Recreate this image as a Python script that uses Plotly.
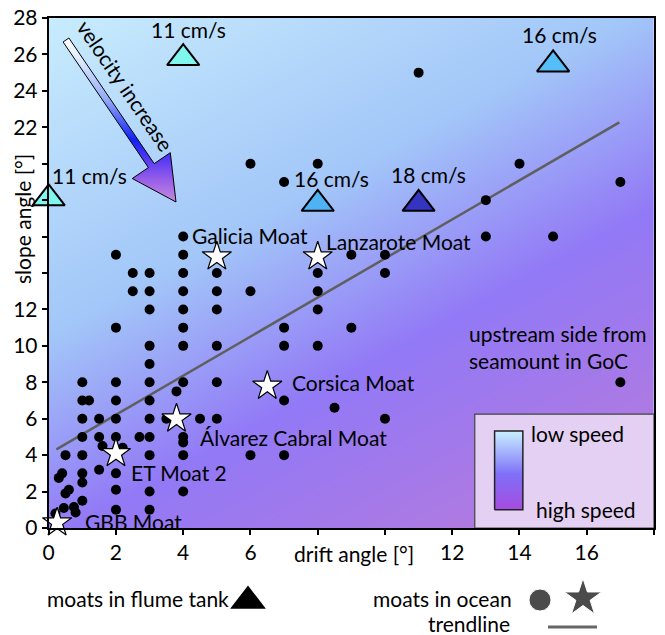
import numpy as np
import plotly.graph_objects as go

# ---------------- data ----------------
dot_x = [0.2, 0.45, 0.75, 0.8, 0.3, 0.4, 0.5, 0.6, 0.5,
         1, 1, 1, 1, 1, 1, 1, 1,
         1.2,
         1.5, 1.6, 1.5, 1.5,
         2, 2, 2, 2, 2, 2, 2, 2, 2,
         2.2,
         2.5, 2.5,
         2.7,
         3, 3, 3, 3, 3, 3, 3, 3, 3, 3, 3, 3,
         3.5, 3.8,
         4, 4, 4, 4, 4, 4, 4, 4, 4, 4, 4, 4,
         4.5,
         5, 5, 5, 5, 5, 5,
         6, 6, 6,
         7, 7, 7, 7, 7,
         8, 8, 8, 8, 8,
         8.5,
         9, 9,
         10, 10, 10,
         11,
         13, 13, 14, 15, 17, 17]
dot_y = [0.8, 1.1, 1.15, 0.85, 2.75, 3.0, 1.9, 2.1, 4,
         1.5, 2.5, 3, 4, 5, 6, 7, 8,
         7,
         3.2, 4.5, 5, 6,
         1, 2.1, 3, 5, 6, 7, 8, 11, 15,
         4.4,
         13, 14,
         5,
         1, 2, 4, 5, 6, 7, 8, 9, 10, 12, 13, 14,
         6, 7.5,
         2, 4, 4.7, 5, 8, 10, 11, 12, 13, 14, 15, 16,
         6,
         6, 8, 10, 12, 13, 14,
         4, 13, 20,
         4, 7, 10, 11, 19,
         10, 12, 13, 14, 20,
         6.6,
         11, 15,
         6, 14, 15,
         25,
         16, 18, 20, 16, 8, 19]

star_names = ["Galicia Moat", "Lanzarote Moat", "Corsica Moat",
              "Álvarez Cabral Moat", "ET Moat 2", "GBB Moat"]
star_x = [5, 8, 6.5, 3.8, 2, 0.25]
star_y = [14.9, 14.9, 7.8, 6.0, 4.1, 0.3]

flume_labels = ["11 cm/s", "11 cm/s", "16 cm/s", "18 cm/s", "16 cm/s"]
flume_x = [4, 0, 8, 11, 15]
flume_y = [25.8, 18.1, 17.8, 17.8, 25.45]

trend_x = [0.23, 16.97]
trend_y = [4.32, 22.27]

x_tickvals = list(range(0, 19, 2))
x_ticktext = ["0", "2", "4", "6", "", "", "12", "14", "16", ""]
y_tickvals = list(range(0, 29, 2))
y_ticktext = ["0", "2", "4", "6", "8", "10", "12", "", "", "", "", "22", "24", "26", "28"]

# ---------------- styles / layout constants ----------------
W, H = 665, 635            # window size
OFF = 8                    # default page margin of the html body
FW, FH = W - OFF, H - OFF  # figure size
L, R, T, B = 48.7, 654, 18, 528          # plot box in window pixels
XR, YR = (0, 18), (0, 28)
SX = (R - L) / (XR[1] - XR[0])
SY = (B - T) / (YR[1] - YR[0])
FONT = "Lato"
FS = 21
flume_colors = ["#80f6ee", "#80f6ee", "#4db3f5", "#3434c0", "#55bdf7"]


def px(x):
    return (x - OFF) / FW


def py(y):
    return 1 - (y - OFF) / FH


fig = go.Figure()

# background gradient (diagonal)
gx = np.linspace(-1, 19, 3)
gy = np.linspace(-1, 29, 3)
norm = 0.55 * (R - L) + (B - T)
Z = [[(0.55 * SX * x + SY * (YR[1] - y)) / norm for x in gx] for y in gy]
BG_SCALE = [[0, "#c8ecfd"], [0.38, "#a2c6f8"], [0.62, "#9279f6"], [1, "#bc7ad8"]]
fig.add_trace(go.Heatmap(x=gx, y=gy, z=Z, zmin=0, zmax=1, colorscale=BG_SCALE,
                         zsmooth="best", showscale=False, hoverinfo="skip"))

# inset speed legend box
bx0, bx1, by0, by1 = 12.67, 18, 0, 6.25
fig.add_trace(go.Scatter(x=[bx0, bx1, bx1, bx0, bx0], y=[by0, by0, by1, by1, by0],
                         mode="lines", fill="toself", fillcolor="#e4d0f2",
                         line=dict(color="#444", width=1.2), hoverinfo="skip",
                         showlegend=False))
cx0, cx1, cy0, cy1 = 13.26, 14.1, 1.0, 5.33
fig.add_trace(go.Scatter(x=[cx0, cx1, cx1, cx0, cx0], y=[cy0, cy0, cy1, cy1, cy0],
                         mode="lines", fill="toself",
                         fillgradient=dict(type="vertical",
                                           colorscale=[[0, "#a64ae0"], [0.45, "#7f70f8"],
                                                       [1, "#c8f0ff"]]),
                         line=dict(color="#222", width=1.5), hoverinfo="skip",
                         showlegend=False))

# velocity arrow (pixel geometry converted to data units)
tail = np.array([66.0, 40.0]); tip = np.array([176.0, 202.0])
shaft_w, head_w, head_len = 7.0, 46.0, 44.0
u = (tip - tail) / np.linalg.norm(tip - tail)
n = np.array([-u[1], u[0]])
base = tip - u * head_len
pts = [tail + n * shaft_w / 2, base + n * shaft_w / 2, base + n * head_w / 2, tip,
       base - n * head_w / 2, base - n * shaft_w / 2, tail - n * shaft_w / 2,
       tail + n * shaft_w / 2]
ax_ = [(p[0] - L) / SX for p in pts]
ay_ = [(B - p[1]) / SY for p in pts]
fig.add_trace(go.Scatter(x=ax_, y=ay_, mode="lines", fill="toself",
                         fillgradient=dict(type="vertical",
                                           colorscale=[[0, "#c48ade"], [0.13, "#9a60e8"],
                                                       [0.25, "#5a3cf2"], [0.38, "#1020f8"],
                                                       [0.62, "#90a8f8"], [0.85, "#d8e6fc"],
                                                       [1, "#ffffff"]]),
                         line=dict(color="black", width=1), hoverinfo="skip",
                         cliponaxis=False, showlegend=False))

# trendline
fig.add_trace(go.Scatter(x=trend_x, y=trend_y, mode="lines",
                         line=dict(color="#5f5f5f", width=2.5), showlegend=False))
# ocean moats
fig.add_trace(go.Scatter(x=dot_x, y=dot_y, mode="markers",
                         marker=dict(color="black", size=10), showlegend=False))
fig.add_trace(go.Scatter(x=star_x, y=star_y, mode="markers", cliponaxis=False,
                         marker=dict(symbol="star", color="white", size=22,
                                     line=dict(color="black", width=1.2)),
                         showlegend=False))
# flume tank moats
fig.add_trace(go.Scatter(x=flume_x, y=flume_y, mode="markers", cliponaxis=False,
                         marker=dict(symbol="triangle-up", color=flume_colors, size=28,
                                     line=dict(color="black", width=2)),
                         showlegend=False))

# bottom legend glyphs on a window-pixel overlay axis
fig.add_trace(go.Scatter(x=[248], y=[601], xaxis="x2", yaxis="y2", mode="markers",
                         marker=dict(symbol="triangle-up", color="black", size=31),
                         showlegend=False, cliponaxis=False))
fig.add_trace(go.Scatter(x=[540, 583], y=[600, 598], xaxis="x2", yaxis="y2", mode="markers",
                         marker=dict(symbol=["circle", "star"], color="black", size=[22, 28]),
                         showlegend=False, cliponaxis=False))
fig.add_trace(go.Scatter(x=[548, 597], y=[627, 627], xaxis="x2", yaxis="y2", mode="lines",
                         line=dict(color="#666", width=3), showlegend=False,
                         cliponaxis=False))

ann = []


def txt(x, y, s, xanchor="center", ref="x", **kw):
    d = dict(x=x, y=y, text=s, showarrow=False, xanchor=xanchor, yanchor="middle",
             font=dict(family=FONT, size=kw.pop("size", FS), color="black"))
    if ref == "x":
        d.update(xref="x", yref="y")
    else:
        d.update(xref="paper", yref="paper", x=px(x), y=py(y))
    d.update(kw)
    ann.append(d)


# flume labels
flume_lab_pos = [(4.16, 27.36, "center"), (1.21, 19.34, "center"), (8.4, 19.2, "center"),
                 (11.29, 19.4, "center"), (15.19, 27.09, "center")]
for (lx, ly, xa), s in zip(flume_lab_pos, flume_labels):
    txt(lx, ly, s, xa)
# star labels
star_lab_pos = [(6.0, 16.04, "center"), (8.2, 15.71, "left"), (7.19, 7.97, "left"),
                (4.43, 4.96, "left"), (2.38, 3.04, "left"), (1.02, 0.35, "left")]
for (lx, ly, xa), s in zip(star_lab_pos, star_names):
    txt(lx, ly, s, xa)
txt(12.45, 9.95, "upstream side from<br>seamount in GoC", "left", align="left")
txt(14.28, 5.2, "low speed", "left")
txt(14.43, 1.03, "high speed", "left")
# arrow text
txt((126 - L) / SX, (B - 85) / SY, "velocity increase", "center", textangle=55.8)
# axis titles (window pixels)
txt(354, 553, "drift angle [°]", "center", ref="paper")
txt(22, 219, "slope angle [°]", "center", ref="paper", textangle=-90)
# bottom legend text (window pixels)
txt(231, 598, "moats in flume tank", "right", ref="paper")
txt(371, 598, "moats in ocean", "left", ref="paper")
txt(469, 623, "trendline", "center", ref="paper")

axis_common = dict(ticks="outside", ticklen=5, tickwidth=1.5, tickcolor="black",
                   showline=True, linecolor="black", linewidth=2, mirror=True,
                   showgrid=False, zeroline=False, automargin=False,
                   ticklabeloverflow="allow",
                   tickfont=dict(family=FONT, size=FS))
fig.update_layout(
    width=FW, height=FH, margin=dict(l=0, r=0, t=0, b=0, autoexpand=False),
    paper_bgcolor="white", plot_bgcolor="rgba(0,0,0,0)",
    font=dict(family=FONT, size=FS, color="black"),
    showlegend=False,
    annotations=ann,
    xaxis=dict(domain=[px(L), px(R)], range=list(XR), tickvals=x_tickvals,
               ticktext=x_ticktext, **axis_common),
    yaxis=dict(domain=[py(B), py(T)], range=list(YR), tickvals=y_tickvals,
               ticktext=y_ticktext, **axis_common),
    xaxis2=dict(domain=[0, 1], range=[OFF, W], visible=False, anchor="y2",
                fixedrange=True, automargin=False),
    yaxis2=dict(domain=[0, 1], range=[H, OFF], visible=False, anchor="x2",
                fixedrange=True, automargin=False),
)

fig.write_html("out.html")
